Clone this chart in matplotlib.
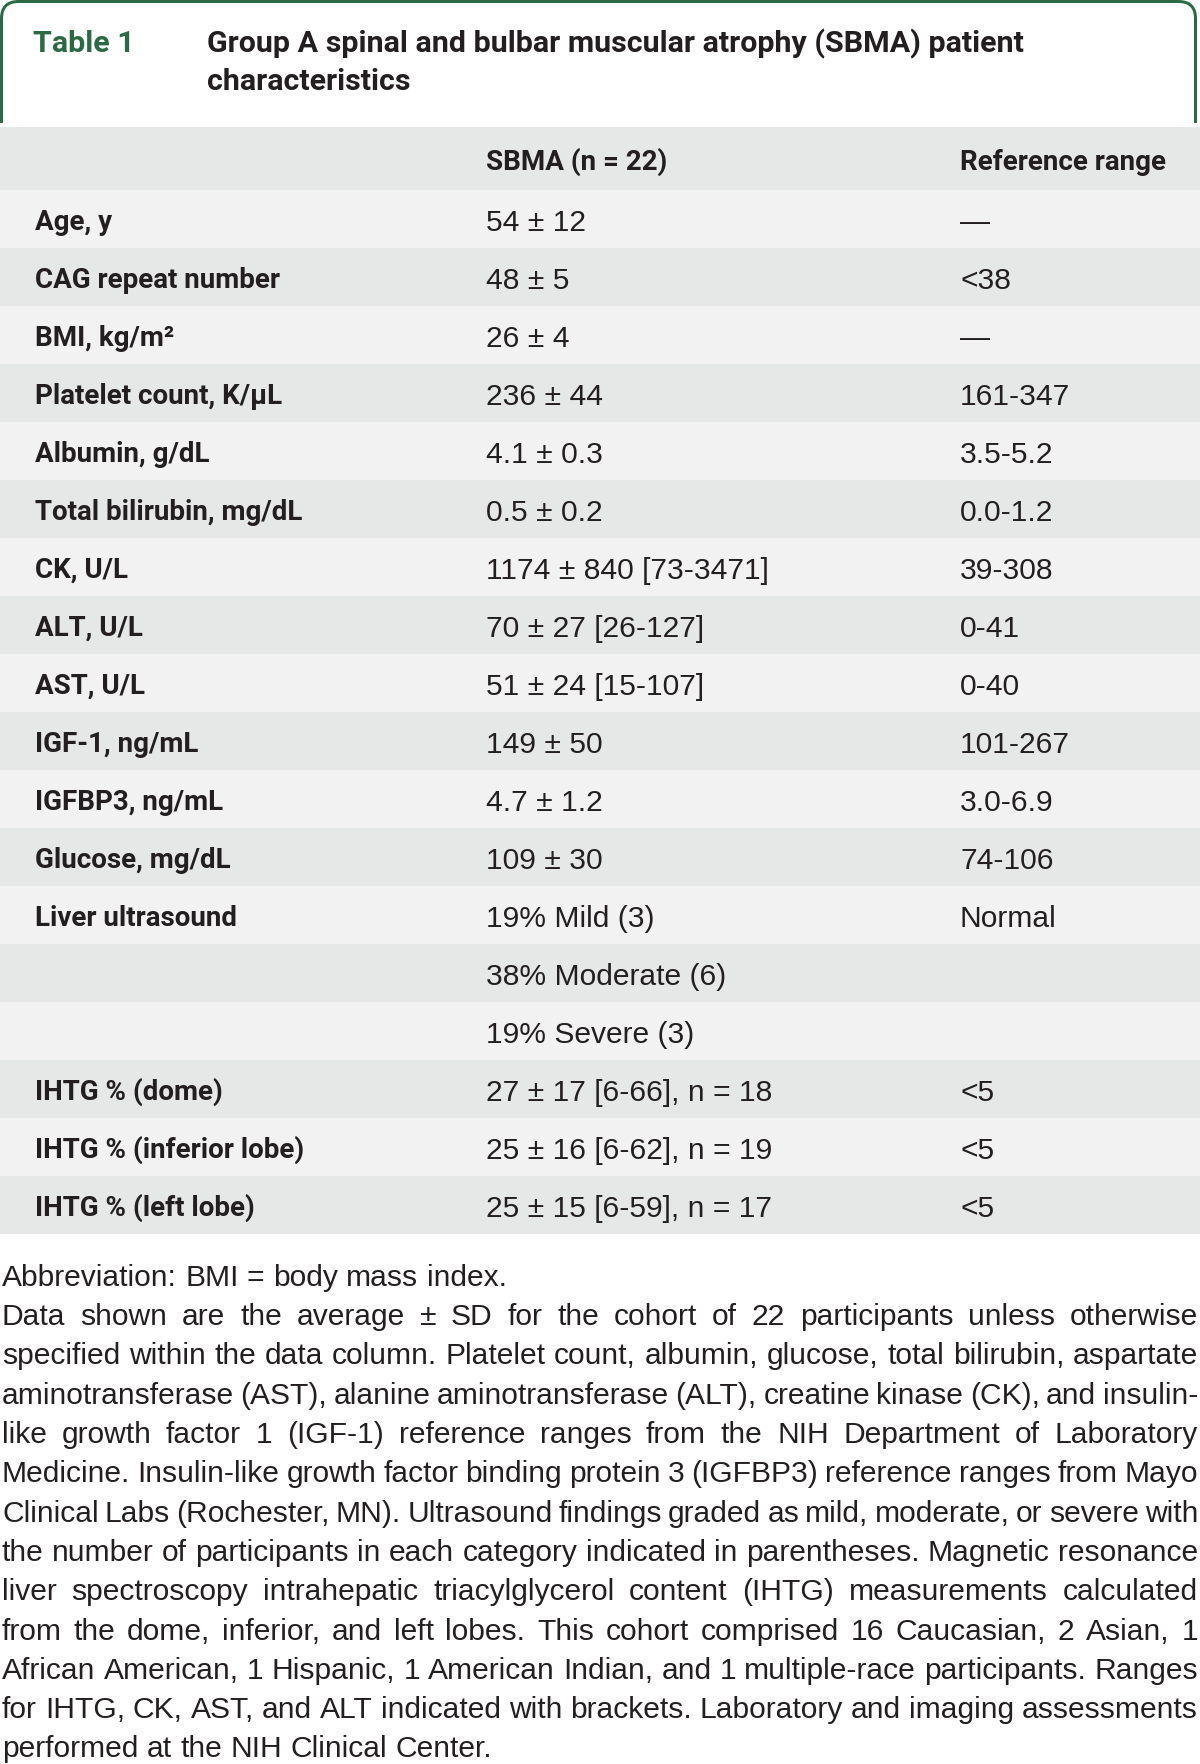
import matplotlib
matplotlib.use("Agg")
import matplotlib.pyplot as plt
from matplotlib.patches import Rectangle, PathPatch
from matplotlib.path import Path

# ---------------- data ----------------
table_number = "Table 1"
title_lines = ["Group A spinal and bulbar muscular atrophy (SBMA) patient",
               "characteristics"]
column_headers = ["", "SBMA (n = 22)", "Reference range"]
row_labels = ["Age, y", "CAG repeat number", "BMI, kg/m²", "Platelet count, K/μL",
              "Albumin, g/dL", "Total bilirubin, mg/dL", "CK, U/L", "ALT, U/L",
              "AST, U/L", "IGF-1, ng/mL", "IGFBP3, ng/mL", "Glucose, mg/dL",
              "Liver ultrasound", "", "", "IHTG % (dome)",
              "IHTG % (inferior lobe)", "IHTG % (left lobe)"]
sbma_values = ["54 ± 12", "48 ± 5", "26 ± 4", "236 ± 44", "4.1 ± 0.3", "0.5 ± 0.2",
               "1174 ± 840 [73-3471]", "70 ± 27 [26-127]", "51 ± 24 [15-107]",
               "149 ± 50", "4.7 ± 1.2", "109 ± 30", "19% Mild (3)",
               "38% Moderate (6)", "19% Severe (3)", "27 ± 17 [6-66], n = 18",
               "25 ± 16 [6-62], n = 19", "25 ± 15 [6-59], n = 17"]
reference_ranges = ["—", "<38", "—", "161-347", "3.5-5.2", "0.0-1.2", "39-308",
                    "0-41", "0-40", "101-267", "3.0-6.9", "74-106", "Normal",
                    "", "", "<5", "<5", "<5"]
footnote_lines = [
    "Abbreviation: BMI = body mass index.",
    "Data shown are the average ± SD for the cohort of 22 participants unless otherwise",
    "specified within the data column. Platelet count, albumin, glucose, total bilirubin, aspartate",
    "aminotransferase (AST), alanine aminotransferase (ALT), creatine kinase (CK), and insulin-",
    "like growth factor 1 (IGF-1) reference ranges from the NIH Department of Laboratory",
    "Medicine. Insulin-like growth factor binding protein 3 (IGFBP3) reference ranges from Mayo",
    "Clinical Labs (Rochester, MN). Ultrasound findings graded as mild, moderate, or severe with",
    "the number of participants in each category indicated in parentheses. Magnetic resonance",
    "liver spectroscopy intrahepatic triacylglycerol content (IHTG) measurements calculated",
    "from the dome, inferior, and left lobes. This cohort comprised 16 Caucasian, 2 Asian, 1",
    "African American, 1 Hispanic, 1 American Indian, and 1 multiple-race participants. Ranges",
    "for IHTG, CK, AST, and ALT indicated with brackets. Laboratory and imaging assessments",
    "performed at the NIH Clinical Center.",
]
justified = [False] + [True] * 11 + [False]

# ---------------- style ----------------
W, H = 1200, 1764
GREEN = "#2b6a45"
TXT = "#231f20"
LIGHT = "#f2f2f2"
DARK = "#e6e7e7"
PX = 0.72  # pt per px at dpi 100

REG_FONT = "Liberation Sans"
BOLD_FONT = "Roboto"
reg_px = 30.0
bold_px = 27.7
title_px = 30.4

fig = plt.figure(figsize=(W / 100, H / 100), dpi=100)
ax = fig.add_axes([0, 0, 1, 1])
ax.set_xlim(0, W)
ax.set_ylim(H, 0)
ax.axis("off")
renderer = fig.canvas.get_renderer()

def cap_offset(px):
    return 0.36 * px

# green rounded header box (open at bottom)
x0, x1, yt, yb, rad = 1.5, 1195.5, 1.5, 123.0, 17.0
verts = [(x0, yb), (x0, yt + rad), (x0, yt), (x0 + rad, yt), (x1 - rad, yt),
         (x1, yt), (x1, yt + rad), (x1, yb)]
codes = [Path.MOVETO, Path.LINETO, Path.CURVE3, Path.CURVE3, Path.LINETO,
         Path.CURVE3, Path.CURVE3, Path.LINETO]
ax.add_patch(PathPatch(Path(verts, codes), fill=False, edgecolor=GREEN,
                       linewidth=3 * PX, capstyle="butt", joinstyle="round"))

# title
title_y = [41.5, 79.5]
ax.text(33, title_y[0] + cap_offset(title_px), table_number, family=BOLD_FONT,
        fontweight="bold", fontsize=title_px * PX, color=GREEN, va="baseline", ha="left")
for yy, line in zip(title_y, title_lines):
    ax.text(207, yy + cap_offset(title_px), line, family=BOLD_FONT, fontweight="bold",
            fontsize=title_px * PX, color=TXT, va="baseline", ha="left")

# table
col_x = [35, 486, 960]
header_top, header_bot = 127.0, 190.0
row_h = 58.0
ax.add_patch(Rectangle((0, header_top), W, header_bot - header_top,
                       facecolor=DARK, edgecolor="none"))
for cx, htxt in zip(col_x, column_headers):
    if htxt:
        ax.text(cx, 160 + cap_offset(bold_px), htxt, family=BOLD_FONT, fontweight="bold",
                fontsize=bold_px * PX, color=TXT, va="baseline", ha="left")

for i, (lab, val, ref) in enumerate(zip(row_labels, sbma_values, reference_ranges)):
    top = header_bot + i * row_h
    ax.add_patch(Rectangle((0, top), W, row_h, facecolor=LIGHT if i % 2 == 0 else DARK,
                           edgecolor="none"))
    cy = top + row_h / 2 + 1
    if lab:
        ax.text(col_x[0], cy + cap_offset(bold_px), lab, family=BOLD_FONT,
                fontweight="bold", fontsize=bold_px * PX, color=TXT,
                va="baseline", ha="left")
    if val:
        ax.text(col_x[1], cy + cap_offset(reg_px), val, family=REG_FONT,
                fontsize=reg_px * PX, color=TXT, va="baseline", ha="left")
    if ref:
        ax.text(col_x[2], cy + cap_offset(reg_px), ref, family=REG_FONT,
                fontsize=reg_px * PX, color=TXT, va="baseline", ha="left")

# footnote (justified)
fx0, fx1 = 2.0, 1198.0
fy0, fdy = 1275.0, 39.3
space_px = 0.278 * reg_px
for i, (line, just) in enumerate(zip(footnote_lines, justified)):
    y = fy0 + i * fdy + cap_offset(reg_px)
    words = line.split(" ")
    texts = [ax.text(0, y, w, family=REG_FONT, fontsize=reg_px * PX, color=TXT,
                     va="baseline", ha="left") for w in words]
    widths = [t.get_window_extent(renderer).width for t in texts]
    if just and len(words) > 1:
        gap = (fx1 - fx0 - sum(widths)) / (len(words) - 1)
        gap = max(gap, 0.5 * space_px)
    else:
        gap = space_px
    x = fx0
    for t, w in zip(texts, widths):
        t.set_x(x)
        x += w + gap

fig.savefig("out.png", dpi=100, facecolor="white")
